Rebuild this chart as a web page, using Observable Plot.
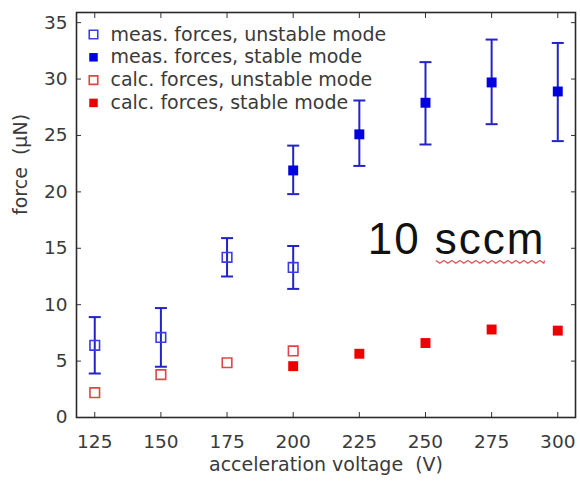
<!DOCTYPE html>
<html>
<head>
<meta charset="utf-8">
<script src="https://cdn.jsdelivr.net/npm/d3@7"></script>
<script src="https://cdn.jsdelivr.net/npm/@observablehq/plot@0.6"></script>
<style>
  html, body { margin: 0; padding: 0; background: #fff; }
  svg { display: block; }
</style>
</head>
<body>
<div id="chart"></div>
<script>
// ---- data ----
const measUnstableV = [125, 150, 175, 200];
const measUnstableF = [6.4, 7.1, 14.2, 13.3];
const measUnstableLo = [3.9, 4.5, 12.5, 11.4];
const measUnstableHi = [8.9, 9.7, 15.9, 15.2];

const measStableV = [200, 225, 250, 275, 300];
const measStableF = [21.9, 25.1, 27.9, 29.7, 28.9];
const measStableLo = [19.8, 22.3, 24.2, 26.0, 24.5];
const measStableHi = [24.1, 28.1, 31.5, 33.5, 33.2];

const calcUnstableV = [125, 150, 175, 200];
const calcUnstableF = [2.2, 3.8, 4.85, 5.9];

const calcStableV = [200, 225, 250, 275, 300];
const calcStableF = [4.55, 5.65, 6.6, 7.8, 7.7];

const xTicks = [125, 150, 175, 200, 225, 250, 275, 300];
const yTicks = [0, 5, 10, 15, 20, 25, 30, 35];

const legendLabels = [
  "meas. forces, unstable mode",
  "meas. forces, stable mode",
  "calc. forces, unstable mode",
  "calc. forces, stable mode"
];
const xLabel = "acceleration voltage  (V)";
const yLabel = "force  (µN)";
const annotation = "10 sccm";

// ---- tables ----
const toRows = (xs, ys, lo, hi) => xs.map((x, i) => ({x, y: ys[i], lo: lo ? lo[i] : null, hi: hi ? hi[i] : null}));
const measU = toRows(measUnstableV, measUnstableF, measUnstableLo, measUnstableHi);
const measS = toRows(measStableV, measStableF, measStableLo, measStableHi);
const calcU = toRows(calcUnstableV, calcUnstableF);
const calcS = toRows(calcStableV, calcStableF);
const measAll = measU.concat(measS);

// ---- styles ----
const BLUE_OPEN = "#3c3ce6";
const BLUE = "#0000e0";
const BLUE_BAR = "#2323c8";
const RED = "#ee0000";
const RED_OPEN = "#e04545";
const TEXT = "#3a3a3a";
const FONT = "DejaVu Sans";

const capSymbol = {
  draw(context) { context.moveTo(-6, 0); context.lineTo(6, 0); }
};

const legendStyles = [
  {fill: "white", stroke: BLUE_OPEN, strokeWidth: 1.6},
  {fill: BLUE, stroke: "none"},
  {fill: "white", stroke: RED_OPEN, strokeWidth: 1.6},
  {fill: RED, stroke: "none"}
];

const legendMarks = legendLabels.flatMap((label, i) => [
  Plot.dot([label], {frameAnchor: "top-left", dx: 17, dy: 22 + i * 22.8, symbol: "square", r: 4.8, ...legendStyles[i]}),
  Plot.text([label], {frameAnchor: "top-left", dx: 34, dy: 22 + i * 22.8, text: d => d, textAnchor: "start", lineAnchor: "middle", fontSize: 19, fill: TEXT, fontFamily: FONT})
]);

const chart = Plot.plot({
  width: 580,
  height: 481,
  marginLeft: 76,
  marginRight: 5,
  marginTop: 12,
  marginBottom: 64,
  style: {fontFamily: FONT, background: "white", overflow: "visible"},
  x: {domain: [118.1, 306.7], ticks: xTicks},
  y: {domain: [0, 35.9], ticks: yTicks},
  marks: [
    // inward ticks on all four sides
    Plot.axisX({anchor: "bottom", ticks: xTicks, tickSize: 5, dy: -5, tickFormat: () => "", label: null, stroke: "#333"}),
    Plot.axisX({anchor: "top", ticks: xTicks, tickSize: 5, dy: 5, tickFormat: () => "", label: null, stroke: "#333"}),
    Plot.axisY({anchor: "left", ticks: yTicks, tickSize: 5, dx: 5, tickFormat: () => "", label: null, stroke: "#333"}),
    Plot.axisY({anchor: "right", ticks: yTicks, tickSize: 5, dx: -5, tickFormat: () => "", label: null, stroke: "#333"}),
    // tick labels
    Plot.axisX({anchor: "bottom", ticks: xTicks, tickSize: 0, tickPadding: 17, label: null, fontSize: 18.5, color: TEXT}),
    Plot.axisY({anchor: "left", ticks: yTicks, tickSize: 0, tickPadding: 9, label: null, fontSize: 18.5, color: TEXT}),
    // axis labels
    Plot.text([xLabel], {frameAnchor: "bottom", dy: 53, text: d => d, lineAnchor: "bottom", fontSize: 19, fill: TEXT}),
    Plot.text([yLabel], {frameAnchor: "left", dx: -56, text: d => d, rotate: -90, lineAnchor: "middle", fontSize: 19, fill: TEXT}),
    Plot.frame({stroke: "#2a2a2a", strokeWidth: 1.6}),
    // error bars
    Plot.ruleX(measAll, {x: "x", y1: "lo", y2: "hi", stroke: BLUE_BAR, strokeWidth: 2}),
    Plot.dot(measAll, {x: "x", y: "lo", symbol: capSymbol, r: 1, fill: "none", stroke: BLUE_BAR, strokeWidth: 2}),
    Plot.dot(measAll, {x: "x", y: "hi", symbol: capSymbol, r: 1, fill: "none", stroke: BLUE_BAR, strokeWidth: 2}),
    // points
    Plot.dot(measU, {x: "x", y: "y", symbol: "square", r: 5.4, fill: "none", stroke: BLUE_OPEN, strokeWidth: 1.6}),
    Plot.dot(measS, {x: "x", y: "y", symbol: "square", r: 5.6, fill: BLUE, stroke: "none"}),
    Plot.dot(calcU, {x: "x", y: "y", symbol: "square", r: 5.4, fill: "none", stroke: RED_OPEN, strokeWidth: 1.6}),
    Plot.dot(calcS, {x: "x", y: "y", symbol: "square", r: 5.6, fill: RED, stroke: "none"}),
    // legend
    ...legendMarks,
    // annotation
    Plot.text([annotation], {frameAnchor: "right", dx: -30, dy: 38.5, text: d => d, textAnchor: "end", lineAnchor: "bottom", fontSize: 44, fill: "#111", fontFamily: "Liberation Sans"})
  ]
});

document.getElementById("chart").appendChild(chart);

// spell-check style wavy underline under the unit word
d3.select(chart).selectAll("text").filter(function() { return this.textContent === annotation; }).each(function() {
  const t = d3.select(this);
  t.attr("letter-spacing", "2px");
  const parts = annotation.split(" ");
  t.text(null);
  t.append("tspan").text(parts[0] + " ");
  const unit = t.append("tspan").text(parts.slice(1).join(" "));
  const bb = unit.node().getBBox();
  const x0 = bb.x + 1, x1 = bb.x + bb.width - 1;
  const yBase = bb.y + bb.height - 2;
  const period = 8, amp = 2.8;
  let d = `M${x0},${yBase}`;
  for (let x = x0, k = 0; x < x1; x += period / 2, k++) {
    d += `L${Math.min(x + period / 2, x1)},${yBase + (k % 2 === 0 ? amp : 0)}`;
  }
  d3.select(this.parentNode).append("path")
    .attr("d", d)
    .attr("transform", this.getAttribute("transform"))
    .attr("fill", "none")
    .attr("stroke", "#e05050")
    .attr("stroke-width", 1.2);
});
</script>
</body>
</html>
